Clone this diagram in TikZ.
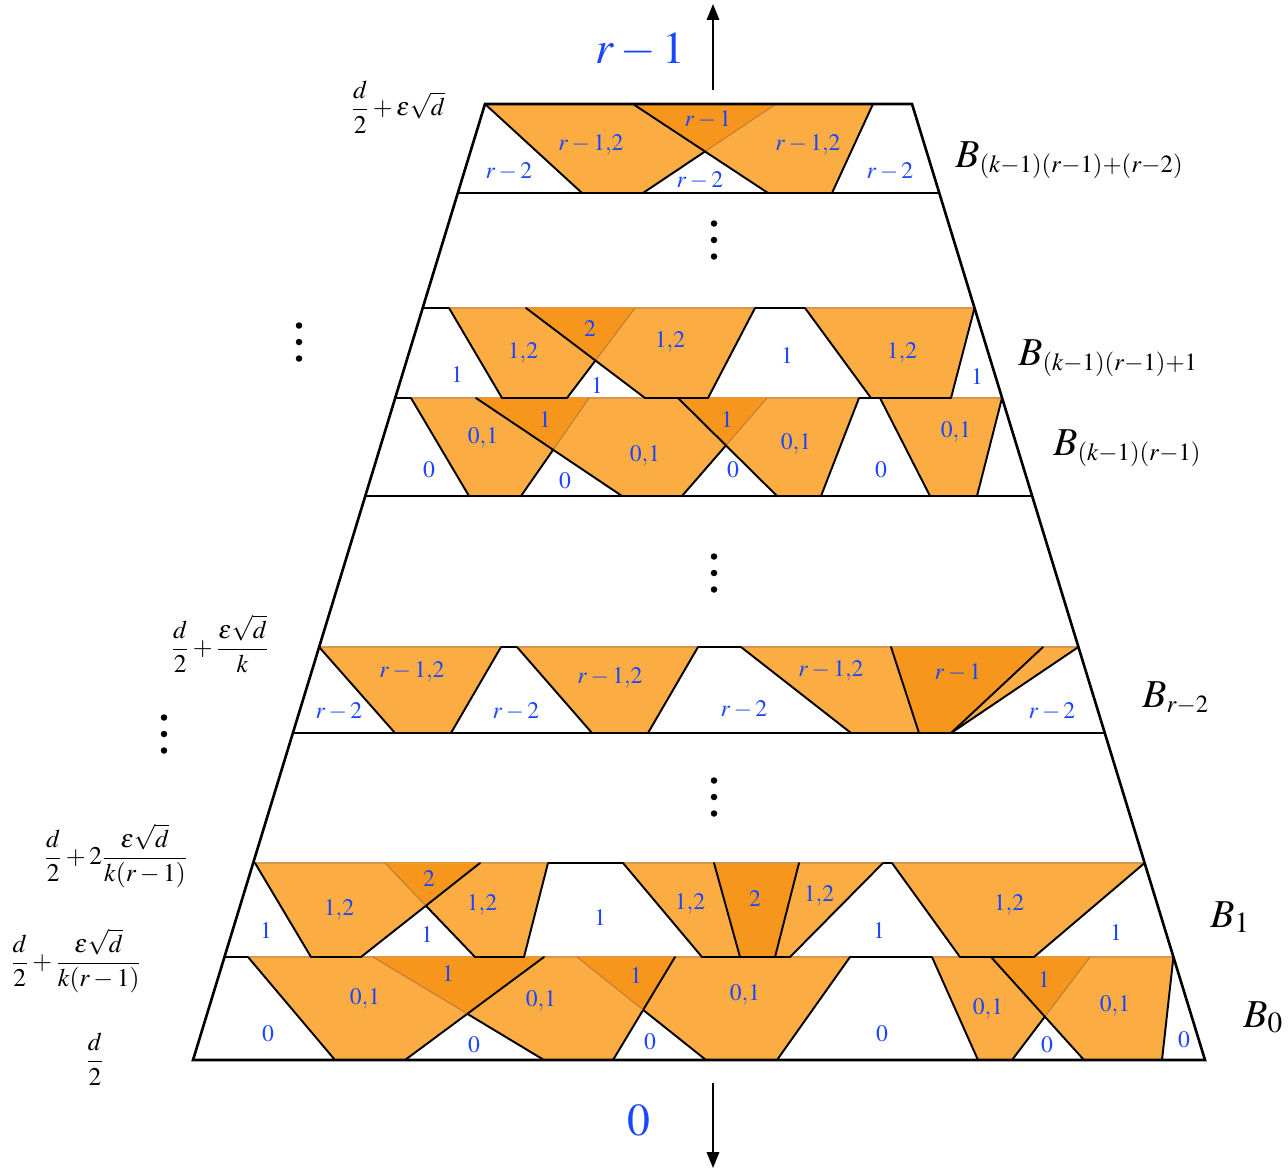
\documentclass[tikz,border=0pt]{standalone}
\usepackage{amsmath}
\usepackage{mathptmx}
\usetikzlibrary{arrows.meta}
\definecolor{orL}{RGB}{251,173,68}
\definecolor{orD}{RGB}{247,150,28}
\definecolor{brn}{RGB}{190,125,50}
\definecolor{tanc}{RGB}{215,150,80}
\definecolor{lblue}{RGB}{25,70,255}
\newcommand{\mktrap}[7]{%
  \coordinate (#1tl) at (#2,#6); \coordinate (#1tr) at (#3,#6);
  \coordinate (#1br) at (#4,#7); \coordinate (#1bl) at (#5,#7);}
\newcommand{\filltrap}[1]{\fill[orL] (#1tl)--(#1tr)--(#1br)--(#1bl)--cycle;
  \draw[topl] (#1tl)--(#1tr);}
\newcommand{\bsub}[1]{\mbox{\fontsize{19}{20}\selectfont$\scriptstyle #1$}}
\tikzset{
  edge/.style={line width=1.1pt, line join=round, line cap=round},
  hid/.style={line width=0.6pt, draw=brn},
  topl/.style={line width=0.6pt, draw=tanc},
  band/.style={line width=0.6pt},
  outer/.style={line width=1.5pt, line join=miter},
  lab/.style={text=lblue, inner sep=0pt, font=\fontsize{13.5}{14}\selectfont},
  blab/.style={inner sep=0pt, anchor=base west, font=\fontsize{22.5}{24}\selectfont},
  llab/.style={inner sep=0pt, font=\fontsize{14.5}{16}\selectfont},
  big/.style={text=lblue, inner sep=0pt, font=\fontsize{26}{28}\selectfont},
  vdot/.style={fill=black, circle, inner sep=0pt, minimum size=6.5pt*0.569},
  arr/.style={line width=1.1pt, -{Triangle[length=9pt,width=7pt]}}
}
\begin{document}
\begin{tikzpicture}[x=0.02cm, y=-0.02cm]
\useasboundingbox (0,0) rectangle (1288,1171);
% outer corners
\coordinate (OBL) at (193,1060); \coordinate (OBR) at (1205,1060);
\coordinate (OTL) at (485,104);  \coordinate (OTR) at (912,104);
% band lines
\draw[band] (457.8,193) -- (939.3,193);
\draw[band] (422.7,308) -- (974.5,308);
\draw[band] (395.2,398) -- (1002.1,398);
\draw[band] (365.3,496) -- (1032.1,496);
\draw[band] (319.1,647) -- (1078.4,647);
\draw[band] (292.9,733) -- (1104.8,733);
\draw[band] (253.2,863) -- (1144.6,863);
\draw[band] (224.5,957) -- (1173.4,957);
% ---------- trapezoid corners
\mktrap{Ta}{485}{776}{643}{582}{104}{193}
\mktrap{Tb}{633}{873}{832}{768}{104}{193}
\mktrap{Pa}{449}{635}{567}{502}{308}{398}
\mktrap{Pb}{526}{755}{708}{645}{308}{398}
\mktrap{Pc}{805}{974.5}{951}{871}{308}{398}
\mktrap{Ua}{411}{589}{521}{469}{398}{496}
\mktrap{Ub}{476}{767}{682}{622}{398}{496}
\mktrap{Uc}{678}{859}{821}{777}{398}{496}
\mktrap{Ud}{880}{1002}{977}{930}{398}{496}
\mktrap{Va}{319.1}{501}{451}{395}{647}{733}
\mktrap{Vb}{517}{698}{648}{592}{647}{733}
\mktrap{Vc}{741}{1043}{951}{851}{647}{733}
\mktrap{Vd}{891}{1078.4}{951}{919}{647}{733}
\mktrap{Wa}{255}{480}{361}{311}{863}{957}
\mktrap{Wb}{385}{548}{524}{475}{863}{957}
\mktrap{Wc}{623}{799}{775}{702}{863}{957}
\mktrap{Wd}{714}{883}{790}{740}{863}{957}
\mktrap{We}{892}{1144.6}{1034}{960}{863}{957}
\mktrap{Xa}{248}{544}{405}{335}{957}{1060}
\mktrap{Xb}{373}{675}{613}{544}{957}{1060}
\mktrap{Xc}{577}{850}{777}{706}{957}{1060}
\mktrap{Xd}{932}{1090}{1012}{978}{957}{1060}
\mktrap{Xe}{991}{1173.4}{1162}{1084}{957}{1060}
% crossings
\coordinate (cT) at (intersection of Tabr--Tatr and Tbtl--Tbbl);
\coordinate (cP) at (intersection of Pabr--Patr and Pbtl--Pbbl);
\coordinate (cU1) at (intersection of Uabr--Uatr and Ubtl--Ubbl);
\coordinate (cU2) at (intersection of Ubbr--Ubtr and Uctl--Ucbl);
\coordinate (cW) at (intersection of Wabr--Watr and Wbtl--Wbbl);
\coordinate (cX1) at (intersection of Xabr--Xatr and Xbtl--Xbbl);
\coordinate (cX2) at (intersection of Xbbr--Xbtr and Xctl--Xcbl);
\coordinate (cX3) at (intersection of Xdbr--Xdtr and Xetl--Xebl);
% ---------- fills
\foreach \t in {Ta,Tb,Pa,Pb,Pc,Ua,Ub,Uc,Ud,Va,Vb,Vc,Vd,Wa,Wb,Wc,Wd,We,Xa,Xb,Xc,Xd,Xe}{\filltrap{\t}}
\fill[orD] (Tbtl)--(Tatr)--(cT)--cycle;
\fill[orD] (Pbtl)--(Patr)--(cP)--cycle;
\fill[orD] (Ubtl)--(Uatr)--(cU1)--cycle;
\fill[orD] (Uctl)--(Ubtr)--(cU2)--cycle;
\fill[orD] (Vdtl)--(Vctr)--(Vcbr)--(Vdbl)--cycle;
\fill[orD] (Wbtl)--(Watr)--(cW)--cycle;
\fill[orD] (Wdtl)--(Wctr)--(Wcbr)--(Wdbl)--cycle;
\fill[orD] (Xbtl)--(Xatr)--(cX1)--cycle;
\fill[orD] (Xctl)--(Xbtr)--(cX2)--cycle;
\fill[orD] (Xetl)--(Xdtr)--(cX3)--cycle;
\draw[topl] (Vdtl)--(Vctr); \draw[topl] (Wdtl)--(Wctr);
% ---------- edges
% top band
\draw[edge] (Tatl)--(Tabl)--(Tabr)--(cT); \draw[hid] (cT)--(Tatr);
\draw[edge] (Tbtl)--(Tbbl)--(Tbbr)--(Tbtr);
% band (k-1)(r-1)+1
\draw[edge] (Patl)--(Pabl)--(Pabr)--(cP); \draw[hid] (cP)--(Patr);
\draw[edge] (Pbtl)--(Pbbl)--(Pbbr)--(Pbtr);
\draw[edge] (Pctl)--(Pcbl)--(Pcbr)--(Pctr);
% band (k-1)(r-1)
\draw[edge] (Uatl)--(Uabl)--(Uabr)--(cU1); \draw[hid] (cU1)--(Uatr);
\draw[edge] (Ubtl)--(Ubbl)--(Ubbr)--(cU2); \draw[hid] (cU2)--(Ubtr);
\draw[edge] (Uctl)--(Ucbl)--(Ucbr)--(Uctr);
\draw[edge] (Udtl)--(Udbl)--(Udbr)--(Udtr);
% band r-2
\draw[edge] (Vatl)--(Vabl)--(Vabr)--(Vatr);
\draw[edge] (Vbtl)--(Vbbl)--(Vbbr)--(Vbtr);
\draw[edge] (Vctl)--(Vcbl)--(Vcbr)--(Vctr);
\draw[edge] (Vdtl)--(Vdbl)--(Vdbr)--(Vdtr);
% band 1
\draw[edge] (Watl)--(Wabl)--(Wabr)--(Watr);
\draw[hid] (Wbtl)--(cW); \draw[edge] (cW)--(Wbbl)--(Wbbr)--(Wbtr);
\draw[edge] (Wctl)--(Wcbl)--(Wdbr)--(Wdtr);
\draw[edge] (Wcbr)--(Wctr); \draw[edge] (Wdtl)--(Wdbl);
\draw[edge] (Wetl)--(Webl)--(Webr)--(Wetr);
% band 0
\draw[edge] (Xatl)--(Xabl)--(Xabr)--(Xatr);
\draw[hid] (Xbtl)--(cX1); \draw[edge] (cX1)--(Xbbl)--(Xbbr)--(Xbtr);
\draw[hid] (Xctl)--(cX2); \draw[edge] (cX2)--(Xcbl)--(Xcbr)--(Xctr);
\draw[edge] (Xdtl)--(Xdbl)--(Xdbr)--(cX3); \draw[hid] (cX3)--(Xdtr);
\draw[edge] (Xetl)--(Xebl)--(Xebr)--(Xetr);
% outer trapezoid
\draw[outer] (OBL)--(OTL)--(OTR)--(OBR)--cycle;
% ---------- labels in bands
\node[lab] (t1) at (708,120) {$r-1$};
\node[lab] (t2) at (591,145) {$r-1{,}2$};
\node[lab] (t3) at (808,145) {$r-1{,}2$};
\node[lab] (t4) at (509,172) {$r-2$};
\node[lab] (t5) at (700,181) {$r-2$};
\node[lab] (t6) at (890,172) {$r-2$};
\node[lab] (p1) at (590,329) {$2$};
\node[lab] (p2) at (523,353) {$1{,}2$};
\node[lab] (p3) at (670,342) {$1{,}2$};
\node[lab] (p4) at (457,375) {$1$};
\node[lab] (p5) at (597,386) {$1$};
\node[lab] (p6) at (787,356) {$1$};
\node[lab] (p7) at (902,353) {$1{,}2$};
\node[lab] (p8) at (977,377) {$1$};
\node[lab] (u1) at (545,420) {$1$};
\node[lab] (u2) at (727,420) {$1$};
\node[lab] (u3) at (483,438) {$0{,}1$};
\node[lab] (u4) at (645,456) {$0{,}1$};
\node[lab] (u5) at (796,444) {$0{,}1$};
\node[lab] (u6) at (956,432) {$0{,}1$};
\node[lab] (u7) at (429,470) {$0$};
\node[lab] (u8) at (565,481) {$0$};
\node[lab] (u9) at (733,470) {$0$};
\node[lab] (u10) at (881,470) {$0$};
\node[lab] (v1) at (412,672) {$r-1{,}2$};
\node[lab] (v2) at (610,678) {$r-1{,}2$};
\node[lab] (v3) at (831,671) {$r-1{,}2$};
\node[lab] (v4) at (958,673) {$r-1$};
\node[lab] (v5) at (339,712) {$r-2$};
\node[lab] (v6) at (516,712) {$r-2$};
\node[lab] (v7) at (744,710) {$r-2$};
\node[lab] (v8) at (1052,712) {$r-2$};
\node[lab] (w1) at (429,879) {$2$};
\node[lab] (w2) at (339,910) {$1{,}2$};
\node[lab] (w3) at (482,905) {$1{,}2$};
\node[lab] (w4) at (266,931) {$1$};
\node[lab] (w5) at (427,935) {$1$};
\node[lab] (w6) at (600,918) {$1$};
\node[lab] (w7) at (690,904) {$1{,}2$};
\node[lab] (w8) at (755,899) {$2$};
\node[lab] (w9) at (819,896) {$1{,}2$};
\node[lab] (w10) at (879,931) {$1$};
\node[lab] (w11) at (1009,905) {$1{,}2$};
\node[lab] (w12) at (1116,933) {$1$};
\node[lab] (x1) at (448,974) {$1$};
\node[lab] (x2) at (636,976) {$1$};
\node[lab] (x3) at (365,999) {$0{,}1$};
\node[lab] (x4) at (541,1001) {$0{,}1$};
\node[lab] (x5) at (745,995) {$0{,}1$};
\node[lab] (x6) at (988,1009) {$0{,}1$};
\node[lab] (x7) at (1044,980) {$1$};
\node[lab] (x8) at (1115,1006) {$0{,}1$};
\node[lab] (x9) at (268,1034) {$0$};
\node[lab] (x10) at (474,1045) {$0$};
\node[lab] (x11) at (650,1042) {$0$};
\node[lab] (x12) at (882,1034) {$0$};
\node[lab] (x13) at (1047,1045) {$0$};
\node[lab] (x14) at (1184,1040) {$0$};
% ---------- B labels
\node[blab] (B1) at (955,167) {$B_{\bsub{(k-1)(r-1)+(r-2)}}$};
\node[blab] (B2) at (1018,365) {$B_{\bsub{(k-1)(r-1)+1}}$};
\node[blab] (B3) at (1053,455) {$B_{\bsub{(k-1)(r-1)}}$};
\node[blab] (B4) at (1142,707) {$B_{\bsub{r-2}}$};
\node[blab] (B5) at (1210,927) {$B_{1}$};
\node[blab] (B6) at (1243,1027) {$B_{0}$};
% ---------- left labels
\node[llab] (h1) at (398,107) {$\dfrac{d}{2}+\varepsilon\sqrt{d}$};
\node[llab] (h2) at (220,644) {$\dfrac{d}{2}+\dfrac{\varepsilon\sqrt{d}}{k}$};
\node[llab] (h3) at (116,856) {$\dfrac{d}{2}+2\dfrac{\varepsilon\sqrt{d}}{k(r-1)}$};
\node[llab] (h4) at (76,961) {$\dfrac{d}{2}+\dfrac{\varepsilon\sqrt{d}}{k(r-1)}$};
\node[llab] (h5) at (95,1059) {$\dfrac{d}{2}$};
% ---------- dots
\foreach \n/\x/\y in {a/714/240, b/714/573, c/714/797, d/299/342, e/164/734}{
  \node[vdot] (\n1) at (\x,\y-16.5) {};
  \node[vdot] (\n2) at (\x,\y) {};
  \node[vdot] (\n3) at (\x,\y+16.5) {};
}
% ---------- arrows
\coordinate (aUs) at (713,90); \coordinate (aUe) at (713,4);
\coordinate (aDs) at (713,1083); \coordinate (aDe) at (713,1168);
\draw[arr] (aUs) -- (aUe);
\draw[arr] (aDs) -- (aDe);
\node[big] (rtop) at (640,50) {$r-1$};
\node[big] (zbot) at (639,1121) {$0$};
\end{tikzpicture}
\end{document}
